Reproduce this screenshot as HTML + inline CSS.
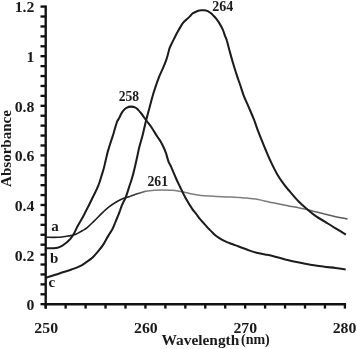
<!DOCTYPE html>
<html><head><meta charset="utf-8"><style>
html,body{margin:0;padding:0;background:#fff;}
body{width:357px;height:349px;overflow:hidden;position:relative;}
svg{position:absolute;left:0;top:0;filter:grayscale(1);}
text{font-family:"Liberation Serif",serif;font-weight:bold;fill:#1a1a1a;}
</style></head><body>
<svg width="357" height="349" viewBox="0 0 357 349">
<g stroke="#111" stroke-width="2.35" fill="none" stroke-linecap="butt">
<path d="M45.70 5.45 L45.70 308.6 M45.70 304.20 L346.05 304.20"/>
<line x1="40.5" y1="304.20" x2="45.70" y2="304.20"/><line x1="40.5" y1="294.28" x2="45.70" y2="294.28"/><line x1="40.5" y1="284.36" x2="45.70" y2="284.36"/><line x1="40.5" y1="274.44" x2="45.70" y2="274.44"/><line x1="40.5" y1="264.52" x2="45.70" y2="264.52"/><line x1="40.5" y1="254.60" x2="45.70" y2="254.60"/><line x1="40.5" y1="244.68" x2="45.70" y2="244.68"/><line x1="40.5" y1="234.76" x2="45.70" y2="234.76"/><line x1="40.5" y1="224.84" x2="45.70" y2="224.84"/><line x1="40.5" y1="214.92" x2="45.70" y2="214.92"/><line x1="40.5" y1="205.00" x2="45.70" y2="205.00"/><line x1="40.5" y1="195.08" x2="45.70" y2="195.08"/><line x1="40.5" y1="185.16" x2="45.70" y2="185.16"/><line x1="40.5" y1="175.24" x2="45.70" y2="175.24"/><line x1="40.5" y1="165.32" x2="45.70" y2="165.32"/><line x1="40.5" y1="155.40" x2="45.70" y2="155.40"/><line x1="40.5" y1="145.48" x2="45.70" y2="145.48"/><line x1="40.5" y1="135.56" x2="45.70" y2="135.56"/><line x1="40.5" y1="125.64" x2="45.70" y2="125.64"/><line x1="40.5" y1="115.72" x2="45.70" y2="115.72"/><line x1="40.5" y1="105.80" x2="45.70" y2="105.80"/><line x1="40.5" y1="95.88" x2="45.70" y2="95.88"/><line x1="40.5" y1="85.96" x2="45.70" y2="85.96"/><line x1="40.5" y1="76.04" x2="45.70" y2="76.04"/><line x1="40.5" y1="66.12" x2="45.70" y2="66.12"/><line x1="40.5" y1="56.20" x2="45.70" y2="56.20"/><line x1="40.5" y1="46.28" x2="45.70" y2="46.28"/><line x1="40.5" y1="36.36" x2="45.70" y2="36.36"/><line x1="40.5" y1="26.44" x2="45.70" y2="26.44"/><line x1="40.5" y1="16.52" x2="45.70" y2="16.52"/><line x1="40.5" y1="6.60" x2="45.70" y2="6.60"/><line x1="45.70" y1="304.20" x2="45.70" y2="308.6"/><line x1="65.65" y1="304.20" x2="65.65" y2="308.6"/><line x1="85.59" y1="304.20" x2="85.59" y2="308.6"/><line x1="105.54" y1="304.20" x2="105.54" y2="308.6"/><line x1="125.49" y1="304.20" x2="125.49" y2="308.6"/><line x1="145.43" y1="304.20" x2="145.43" y2="308.6"/><line x1="165.38" y1="304.20" x2="165.38" y2="308.6"/><line x1="185.33" y1="304.20" x2="185.33" y2="308.6"/><line x1="205.27" y1="304.20" x2="205.27" y2="308.6"/><line x1="225.22" y1="304.20" x2="225.22" y2="308.6"/><line x1="245.17" y1="304.20" x2="245.17" y2="308.6"/><line x1="265.11" y1="304.20" x2="265.11" y2="308.6"/><line x1="285.06" y1="304.20" x2="285.06" y2="308.6"/><line x1="305.01" y1="304.20" x2="305.01" y2="308.6"/><line x1="324.95" y1="304.20" x2="324.95" y2="308.6"/><line x1="344.90" y1="304.20" x2="344.90" y2="308.6"/>
</g>
<defs><linearGradient id="ga" gradientUnits="userSpaceOnUse" x1="126" y1="0" x2="348" y2="0"><stop offset="0" stop-color="#262626"/><stop offset="0.04" stop-color="#333"/><stop offset="0.1" stop-color="#7d7d7d"/><stop offset="0.6" stop-color="#7d7d7d"/><stop offset="1" stop-color="#555"/></linearGradient></defs>
<path d="M46.0 237.3 C47.9 237.3 54.6 237.4 57.5 237.3 C60.4 237.2 61.3 237.0 63.2 236.8 C65.1 236.6 67.2 236.2 68.9 235.9 C70.6 235.6 72.0 235.6 73.5 235.1 C75.0 234.6 76.6 233.9 78.1 233.1 C79.6 232.3 81.2 231.4 82.7 230.5 C84.2 229.6 85.3 229.2 87.2 227.6 C89.1 226.0 91.9 223.1 94.3 220.8 C96.7 218.5 99.1 215.9 101.5 213.6 C103.9 211.3 106.3 209.1 108.7 207.2 C111.1 205.3 113.4 203.6 115.8 202.2 C118.2 200.8 120.6 199.6 123.0 198.6 C125.4 197.6 127.6 197.2 130.0 196.4" stroke="#1e1e1e" stroke-width="1.6" fill="none" stroke-linejoin="round"/>
<path d="M130.0 196.4 C132.4 195.6 134.6 194.7 137.2 193.8 C139.8 193.0 142.9 191.9 145.8 191.3 C148.7 190.7 151.5 190.4 154.4 190.2 C157.3 190.0 160.1 189.9 163.0 189.9 C165.9 189.9 169.6 190.2 171.6 190.3 C173.6 190.4 173.0 190.3 175.0 190.6 C177.0 190.9 180.7 191.4 183.6 192.0 C186.5 192.6 189.3 193.5 192.2 194.1 C195.1 194.7 197.9 195.1 200.8 195.4 C203.7 195.7 206.5 195.9 209.4 196.1 C212.3 196.3 215.1 196.4 218.0 196.6 C220.9 196.8 223.8 196.9 226.6 197.0 C229.4 197.1 232.8 197.1 235.0 197.2 C237.2 197.3 238.0 197.4 240.0 197.6 C242.0 197.8 244.5 197.9 247.2 198.1 C249.9 198.3 253.1 198.5 256.0 199.0 C258.9 199.5 261.6 200.3 264.4 200.9 C267.2 201.5 270.1 202.2 273.0 202.8 C275.9 203.4 278.8 204.0 281.6 204.6 C284.4 205.2 287.2 205.8 290.0 206.3 C292.8 206.8 295.7 207.1 298.6 207.7 C301.5 208.2 304.3 208.9 307.2 209.6 C310.1 210.3 312.9 211.1 315.8 211.8 C318.7 212.5 321.2 213.2 324.4 214.0 C327.5 214.8 330.8 215.6 334.7 216.4 C338.6 217.2 345.5 218.5 347.6 218.9" stroke="url(#ga)" stroke-width="1.5" fill="none" stroke-linejoin="round"/>
<path d="M46.0 248.2 C47.1 248.2 51.0 248.3 52.9 248.2 C54.8 248.1 56.0 248.1 57.5 247.7 C59.0 247.3 60.5 246.8 62.0 245.9 C63.5 245.0 65.2 243.6 66.6 242.5 C67.9 241.4 68.9 240.4 70.1 239.1 C71.2 237.8 72.4 236.4 73.5 234.5 C74.6 232.6 75.8 229.8 76.9 227.6 C78.1 225.4 79.2 223.4 80.4 221.3 C81.6 219.2 83.0 216.8 83.8 215.2 C84.6 213.6 84.6 213.7 85.4 212.0 C86.2 210.3 87.8 207.5 88.9 205.2 C90.1 202.9 91.2 200.6 92.3 198.3 C93.4 196.0 94.7 193.5 95.7 191.4 C96.7 189.3 97.6 187.4 98.3 185.6 C99.0 183.8 99.3 182.8 100.0 180.8 C100.7 178.8 101.5 175.7 102.2 173.6 C102.9 171.5 103.3 170.1 103.9 168.0 C104.5 165.9 105.0 163.2 105.6 160.8 C106.2 158.4 106.7 155.8 107.3 153.4 C107.9 151.0 108.7 148.6 109.4 146.3 C110.1 144.0 110.9 141.6 111.6 139.4 C112.3 137.2 113.1 135.0 113.7 133.0 C114.3 131.0 114.7 129.2 115.3 127.3 C115.9 125.4 116.5 123.0 117.2 121.4 C117.9 119.8 118.8 118.8 119.4 117.6 C120.0 116.4 120.4 115.4 121.0 114.3 C121.6 113.2 122.2 112.0 123.1 110.9 C124.0 109.8 125.2 108.5 126.5 107.8 C127.8 107.1 129.5 106.6 131.0 106.6 C132.5 106.6 134.3 107.0 135.5 107.6 C136.7 108.1 137.3 109.0 138.2 109.9 C139.1 110.8 139.8 111.7 140.9 113.0 C142.0 114.3 143.4 116.4 144.5 117.9 C145.6 119.4 146.2 120.3 147.5 122.0 C148.8 123.7 150.5 125.8 152.1 128.2 C153.7 130.6 155.7 134.1 157.1 136.3 C158.5 138.5 159.6 139.8 160.6 141.5 C161.6 143.2 162.2 144.4 163.1 146.3 C164.0 148.2 164.9 150.2 165.8 152.7 C166.7 155.2 167.6 159.0 168.4 161.3 C169.2 163.6 169.6 163.5 170.9 166.4 C172.2 169.3 174.6 175.0 176.1 178.5 C177.6 182.0 178.7 184.0 180.2 187.2 C181.7 190.4 183.3 193.9 185.3 197.5 C187.3 201.1 190.4 206.2 192.2 208.9 C194.0 211.6 194.7 212.0 196.0 213.7 C197.3 215.4 198.7 217.5 200.1 219.2 C201.5 220.9 202.9 222.3 204.3 223.9 C205.7 225.5 207.0 227.1 208.4 228.5 C209.8 229.9 211.1 231.3 212.5 232.6 C213.9 233.9 215.0 235.1 216.6 236.3 C218.2 237.5 220.1 238.7 221.8 239.7 C223.5 240.7 225.3 241.4 227.0 242.1 C228.7 242.8 230.5 243.4 232.0 244.0 C233.5 244.6 234.1 244.7 235.9 245.4 C237.7 246.1 240.5 247.1 242.8 248.0 C245.1 248.9 247.4 249.8 249.7 250.6 C252.0 251.4 254.1 252.1 256.6 252.7 C259.2 253.3 262.3 253.9 265.0 254.4 C267.7 254.9 269.2 255.1 272.6 255.9 C276.0 256.7 281.0 258.3 285.2 259.4 C289.4 260.4 293.6 261.3 297.8 262.2 C302.0 263.1 306.2 264.0 310.4 264.7 C314.6 265.4 318.8 265.9 323.0 266.5 C327.2 267.1 331.8 267.5 335.6 268.0 C339.4 268.5 344.0 269.2 345.7 269.5" stroke="#1c1c1c" stroke-width="2.05" fill="none" stroke-linejoin="round"/>
<path d="M46.0 277.6 C48.3 276.9 55.8 274.7 60.0 273.3 C64.2 271.9 68.2 270.7 71.5 269.5 C74.8 268.3 77.5 267.4 80.0 266.2 C82.5 265.0 84.2 263.6 86.3 262.2 C88.4 260.8 90.5 259.5 92.6 257.5 C94.7 255.5 97.1 252.6 98.9 250.4 C100.7 248.2 102.4 246.0 103.6 244.1 C104.8 242.2 105.3 241.0 106.3 239.2 C107.3 237.4 108.7 235.2 109.7 233.5 C110.8 231.8 111.6 230.6 112.6 228.7 C113.6 226.8 114.5 224.1 115.5 221.8 C116.5 219.5 117.6 216.8 118.4 214.9 C119.2 213.0 119.5 211.8 120.1 210.3 C120.6 208.8 121.1 207.4 121.7 205.9 C122.3 204.4 123.0 202.9 123.7 201.4 C124.4 199.9 125.0 199.2 125.8 197.1 C126.6 195.0 127.8 191.2 128.6 188.6 C129.4 186.0 130.2 183.8 130.9 181.7 C131.6 179.6 131.9 178.5 132.6 176.1 C133.3 173.7 134.1 170.2 134.9 167.0 C135.7 163.8 136.4 160.1 137.2 156.7 C138.0 153.2 138.6 149.8 139.5 146.3 C140.4 142.9 141.6 139.1 142.4 136.0 C143.2 132.9 143.7 130.5 144.3 128.0 C144.9 125.5 145.4 123.1 146.0 120.8 C146.6 118.5 147.1 116.5 147.8 114.0 C148.5 111.5 149.3 108.4 150.0 105.8 C150.7 103.2 151.2 101.3 151.9 98.6 C152.7 95.9 153.3 93.3 154.5 89.8 C155.7 86.3 157.4 81.2 158.8 77.6 C160.2 74.0 161.8 70.9 163.0 68.1 C164.2 65.3 165.1 63.3 165.9 60.9 C166.8 58.5 167.5 55.8 168.1 53.7 C168.7 51.6 168.8 50.2 169.5 48.3 C170.2 46.4 171.6 44.0 172.4 42.2 C173.2 40.4 173.8 39.3 174.6 37.7 C175.4 36.1 176.2 34.5 177.2 32.6 C178.2 30.8 179.5 28.4 180.6 26.6 C181.7 24.8 182.8 23.1 184.0 21.8 C185.2 20.5 186.5 19.6 187.5 18.6 C188.5 17.7 189.3 16.9 190.1 16.1 C190.9 15.3 191.3 14.4 192.2 13.7 C193.1 13.0 194.2 12.6 195.4 12.0 C196.6 11.4 198.0 10.7 199.3 10.4 C200.6 10.1 202.0 10.2 203.3 10.3 C204.6 10.4 205.9 10.4 207.2 10.9 C208.5 11.4 209.8 12.4 210.9 13.2 C212.0 14.0 212.6 14.9 213.5 15.8 C214.4 16.7 215.2 17.4 216.2 18.7 C217.2 20.0 218.5 21.8 219.6 23.6 C220.7 25.4 221.9 27.6 222.8 29.6 C223.7 31.6 224.3 33.9 225.0 35.8 C225.7 37.7 226.2 38.3 226.9 40.8 C227.7 43.3 228.5 47.0 229.5 50.6 C230.5 54.2 231.6 58.4 232.9 62.7 C234.2 67.0 236.0 72.7 237.2 76.4 C238.4 80.1 239.1 81.8 240.2 85.0 C241.3 88.2 242.2 91.6 243.6 95.3 C245.0 99.0 247.1 103.3 248.8 107.3 C250.5 111.3 252.3 115.4 253.9 119.4 C255.5 123.4 256.6 127.2 258.2 131.4 C259.8 135.6 262.2 141.4 263.4 144.3 C264.6 147.2 264.1 146.2 265.3 149.0 C266.5 151.8 268.5 156.8 270.5 161.0 C272.5 165.2 275.0 170.5 277.3 174.4 C279.6 178.3 282.1 181.8 284.2 184.7 C286.3 187.6 287.6 188.9 290.0 191.7 C292.4 194.5 295.7 198.6 298.6 201.5 C301.5 204.4 304.3 206.8 307.2 209.2 C310.1 211.6 312.9 214.1 315.8 216.1 C318.7 218.1 321.2 219.4 324.4 221.3 C327.5 223.2 331.1 225.6 334.7 227.8 C338.3 230.0 344.0 233.5 345.9 234.7" stroke="#1c1c1c" stroke-width="2.05" fill="none" stroke-linejoin="round"/>
<text transform="translate(34.40 12.40) scale(1.130 1)" font-size="14" text-anchor="end">1.2</text>
<text transform="translate(34.40 62.10) scale(1.130 1)" font-size="14" text-anchor="end">1</text>
<text transform="translate(34.40 111.80) scale(1.130 1)" font-size="14" text-anchor="end">0.8</text>
<text transform="translate(34.40 161.30) scale(1.130 1)" font-size="14" text-anchor="end">0.6</text>
<text transform="translate(34.40 211.20) scale(1.130 1)" font-size="14" text-anchor="end">0.4</text>
<text transform="translate(34.40 261.10) scale(1.130 1)" font-size="14" text-anchor="end">0.2</text>
<text transform="translate(34.40 310.40) scale(1.130 1)" font-size="14" text-anchor="end">0</text>
<text transform="translate(46.20 332.60) scale(1.130 1)" font-size="14" text-anchor="middle">250</text>
<text transform="translate(145.90 332.60) scale(1.130 1)" font-size="14" text-anchor="middle">260</text>
<text transform="translate(245.30 332.60) scale(1.130 1)" font-size="14" text-anchor="middle">270</text>
<text transform="translate(344.50 332.60) scale(1.130 1)" font-size="14" text-anchor="middle">280</text>
<text transform="translate(128.90 100.90) scale(0.970 1)" font-size="14" text-anchor="middle">258</text>
<text transform="translate(157.80 185.90) scale(0.980 1)" font-size="14" text-anchor="middle">261</text>
<text transform="translate(222.85 11.00) scale(1.000 1)" font-size="14" text-anchor="middle">264</text>
<text transform="translate(51.20 231.20) scale(1.000 1)" font-size="15" text-anchor="start">a</text>
<text transform="translate(50.10 263.40) scale(1.000 1)" font-size="15" text-anchor="start">b</text>
<text transform="translate(48.40 287.10) scale(1.000 1)" font-size="15" text-anchor="start">c</text>
<text transform="translate(161.50 344.50) scale(1.100 1)" font-size="14" text-anchor="start">Wavelength</text>
<text transform="translate(241.00 344.40) scale(1.000 1)" font-size="14" text-anchor="start">(nm)</text>
<text transform="translate(11.4,148.5) rotate(-90) scale(1.075,1)" text-anchor="middle" font-size="14">Absorbance</text>
</svg>
</body></html>
